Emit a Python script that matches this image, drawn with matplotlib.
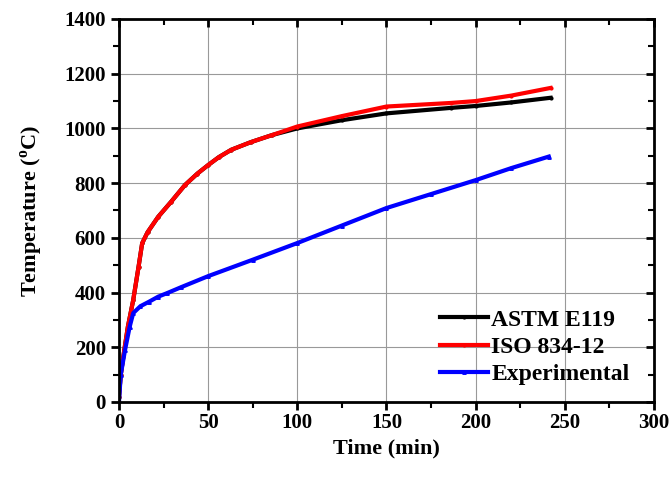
import matplotlib.pyplot as plt
from matplotlib.ticker import MultipleLocator

plt.rcParams['font.family'] = ['Liberation Serif', 'DejaVu Serif']
plt.rcParams['mathtext.fontset'] = 'custom'
plt.rcParams['mathtext.bf'] = 'Liberation Serif:bold'
plt.rcParams['mathtext.rm'] = 'Liberation Serif'

# time (min) and temperature (C)
t_astm = [0, 1, 3, 5, 8, 11, 13, 16, 22, 29, 37, 44, 50, 56, 63, 74, 86, 100, 125, 150, 186, 200, 220, 242]
T_astm = [20, 100, 190, 275, 373, 495, 580, 620, 677, 730, 793, 835, 866, 895, 922, 950, 976, 1000, 1030, 1055, 1075, 1082, 1095, 1112]

t_iso = [0, 1, 3, 5, 8, 11, 13, 16, 22, 29, 37, 44, 50, 56, 63, 74, 86, 100, 125, 150, 186, 200, 220, 242]
T_iso = [20, 100, 190, 275, 373, 495, 580, 620, 677, 730, 793, 835, 866, 895, 922, 950, 976, 1007, 1045, 1080, 1093, 1100, 1120, 1148]

t_exp = [0, 1, 3.4, 6, 8, 12, 17, 22, 27, 35, 50, 75, 100, 125, 150, 175, 200, 220, 241]
T_exp = [0, 100, 190, 275, 325, 350, 367, 385, 398, 420, 460, 520, 581, 645, 709, 760, 811, 855, 897]

fig = plt.figure(figsize=(6.71, 4.82), dpi=100)
ax = fig.add_axes([0.1773, 0.166, 0.7974, 0.7946])

ax.plot(t_astm, T_astm, color='black', lw=3, marker='o', ms=2, label='ASTM E119')
ax.plot(t_iso, T_iso, color='red', lw=3, marker='o', ms=2, label='ISO 834-12')
ax.plot(t_exp, T_exp, color='blue', lw=3, marker='^', ms=2.5, label='Experimental')

ax.set_xlim(0, 300)
ax.set_ylim(0, 1400)
ax.xaxis.set_major_locator(MultipleLocator(50))
ax.xaxis.set_minor_locator(MultipleLocator(25))
ax.yaxis.set_major_locator(MultipleLocator(200))
ax.yaxis.set_minor_locator(MultipleLocator(100))
ax.grid(True, which='major', color='#999999', lw=0.8)
ax.set_axisbelow(True)

for s in ax.spines.values():
    s.set_linewidth(2)
ax.tick_params(which='major', direction='out', length=6, width=2, labelsize=15)
ax.tick_params(axis='x', which='major', pad=2)
ax.tick_params(which='minor', direction='out', length=4, width=1.5)
ax.tick_params(top=True, right=True, which='both')
for lab in ax.get_xticklabels() + ax.get_yticklabels():
    lab.set_fontweight('bold')

# inward ticks on top / right like the original
for tk in ax.xaxis.get_major_ticks() + ax.xaxis.get_minor_ticks():
    tk.tick2line.set_marker(3)
for tk in ax.yaxis.get_major_ticks() + ax.yaxis.get_minor_ticks():
    tk.tick2line.set_marker(0)

ax.set_xlabel('Time (min)', fontsize=16, fontweight='bold', labelpad=4)
ax.set_ylabel('Temperature ($^{\\mathbf{o}}$C)', fontsize=16, fontweight='bold', labelpad=14)

leg = ax.legend(loc='lower right', bbox_to_anchor=(0.985, 0.0), frameon=False,
                fontsize=17, handlelength=2.0, handletextpad=0.15,
                borderaxespad=0.3, labelspacing=0.25)
for txt in leg.get_texts():
    txt.set_fontweight('bold')

fig.savefig('out.png', dpi=100)
